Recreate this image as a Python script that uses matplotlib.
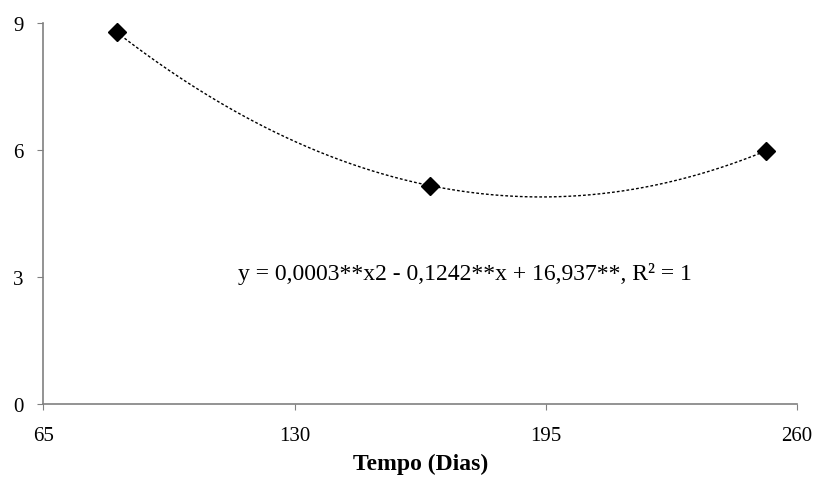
import numpy as np
import matplotlib
matplotlib.use("Agg")
import matplotlib.pyplot as plt

# Dados
dias = [84, 165, 252]
valores = [8.78, 5.16, 5.98]
xticks = [65, 130, 195, 260]
yticks = [0, 3, 6, 9]
equacao = "y = 0,0003**x2 - 0,1242**x + 16,937**, R² = 1"
xlabel = "Tempo (Dias)"

plt.rcParams['font.family'] = ['Liberation Serif', 'DejaVu Serif']

fig = plt.figure(figsize=(8.19, 4.81), dpi=100)
ax = fig.add_axes([0.053, 0.158, 0.920, 0.792])

# Linha de tendencia (polinomio de 2o grau)
coef = np.polyfit(dias, valores, 2)
xs = np.linspace(min(dias), max(dias), 300)
ax.plot(xs, np.polyval(coef, xs), color='black', lw=1.0, ls=(0, (2, 1.5)))
ax.plot(dias, valores, 'D', color='black', markersize=9, ls='none')

ax.set_xlim(65, 260)
ax.set_ylim(0, 9)
ax.set_xticks(xticks)
ax.set_yticks(yticks)
ax.tick_params(axis='both', direction='out', length=4.5, color='#808080',
               labelsize=15)
ax.tick_params(axis='x', pad=11)
ax.tick_params(axis='y', pad=10)

for s in ['top', 'right']:
    ax.spines[s].set_visible(False)
for s in ['left', 'bottom']:
    ax.spines[s].set_color('#808080')
    ax.spines[s].set_linewidth(1.2)

ax.text(0.559, 0.345, equacao, transform=ax.transAxes, ha='center', va='center',
        fontsize=17)
ax.set_xlabel(xlabel, fontsize=17, fontweight='bold', va='center')
ax.xaxis.set_label_coords(0.501, -0.157)

fig.savefig("out.png", dpi=100)
